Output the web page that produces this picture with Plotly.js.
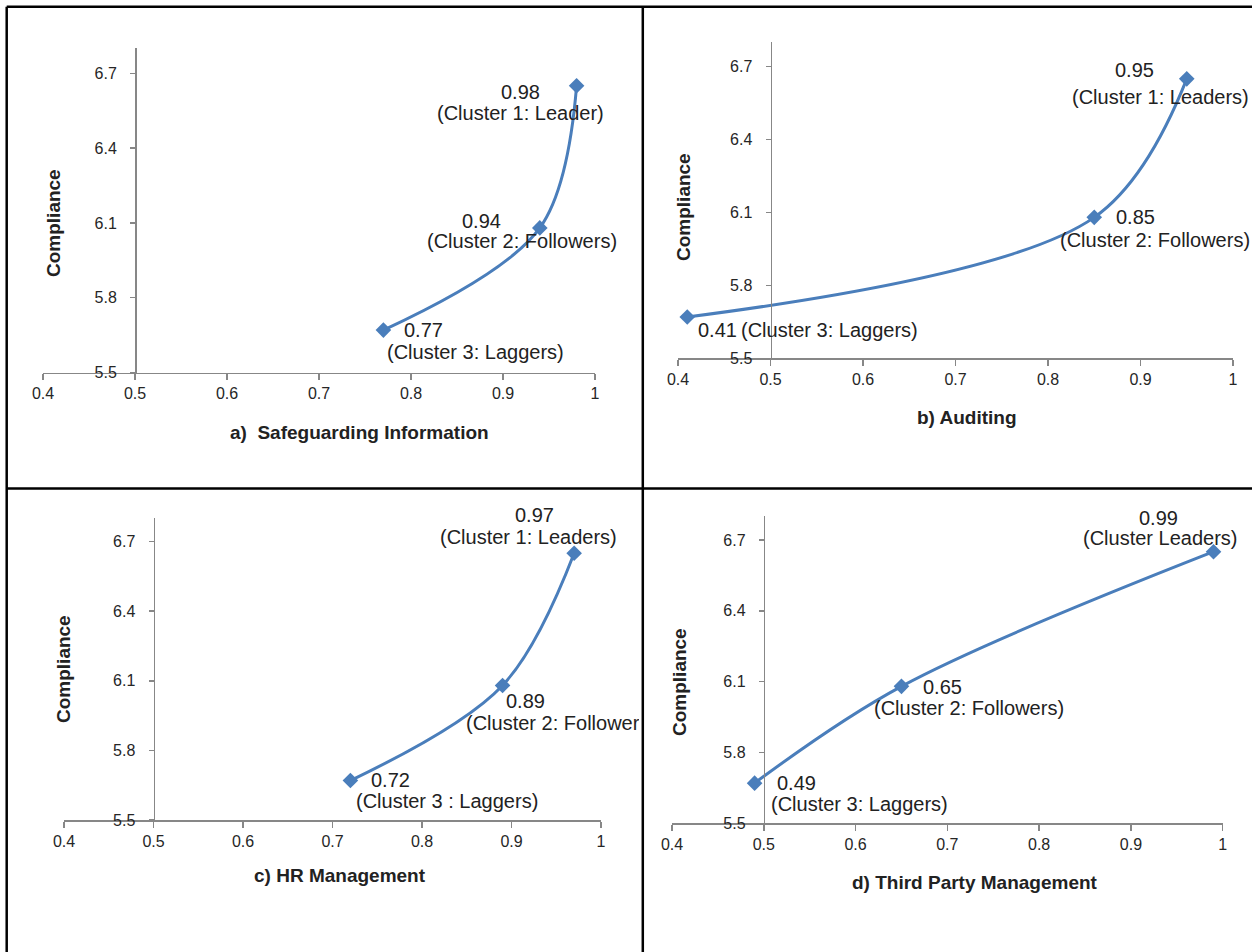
<!DOCTYPE html>
<html><head><meta charset="utf-8">
<script src="https://cdn.plot.ly/plotly-3.0.1.min.js"></script>
<style>html,body{margin:0;padding:0;background:#fff;} #chart{width:1252px;height:952px;}</style>
</head><body><div id="chart"></div>
<script>
// ---- data ----
const compliance = [5.67, 6.08, 6.65];
const safeguardingX = [0.77, 0.94, 0.98];
const auditingX = [0.41, 0.85, 0.95];
const hrX = [0.72, 0.89, 0.97];
const thirdPartyX = [0.49, 0.65, 0.99];
const safeguardingLabels = ['(Cluster 3: Laggers)', '(Cluster 2: Followers)', '(Cluster 1: Leader)'];
const auditingLabels = ['(Cluster 3: Laggers)', '(Cluster 2: Followers)', '(Cluster 1: Leaders)'];
const hrLabels = ['(Cluster 3 : Laggers)', '(Cluster 2: Followers)', '(Cluster 1: Leaders)'];
const thirdPartyLabels = ['(Cluster 3: Laggers)', '(Cluster 2: Followers)', '(Cluster Leaders)'];
const panelTitles = ['a)  Safeguarding Information', 'b) Auditing', 'c) HR Management', 'd) Third Party Management'];
const yAxisTitle = 'Compliance';
const xTickVals = [0.4, 0.5, 0.6, 0.7, 0.8, 0.9, 1.0];
const xTickText = ['0.4', '0.5', '0.6', '0.7', '0.8', '0.9', '1'];
const yTickVals = [5.5, 5.8, 6.1, 6.4, 6.7];
const yTickText = ['5.5', '5.8', '6.1', '6.4', '6.7'];

// ---- layout / style ----
const W = 1252, H = 952;
const FONT = 'Arial, "Liberation Sans", sans-serif';
const BLUE = '#4A7EBB';
const AXC = '#878787';
const xRange = [0.4, 1.0], yRange = [5.5, 6.8];

const panels = [
  {x: safeguardingX, labels: safeguardingLabels, xpx: [43, 595], ypx: [372.5, 48.4],
   titlePos: [359, 433], compPos: [53, 223],
   numOff: [[40, 0], [-58, -7], [-56, 6]], clusOff: [[92, 21.5], [-18, 13], [-56, 27.5]]},
  {x: auditingX, labels: auditingLabels, xpx: [678, 1233], ypx: [358.3, 42.4],
   titlePos: [967, 417], compPos: [683, 207],
   numOff: [[30, 13], [41, 0], [-52, -8.5]], clusOff: [[142, 13], [61, 23], [-26, 18]]},
  {x: hrX, labels: hrLabels, xpx: [64, 601], ypx: [820, 518.4],
   titlePos: [340, 875], compPos: [63, 669],
   numOff: [[40, -1], [23, 16], [-40, -38]], clusOff: [[97, 20.5], null, [-45.4, -16.5]],
   clipped: {i: 1, left: -37.6, dy: 37.6, width: 173}},
  {x: thirdPartyX, labels: thirdPartyLabels, xpx: [672, 1222.7], ypx: [823.3, 516.3],
   titlePos: [975, 882], compPos: [679, 682],
   numOff: [[41.4, 0], [41, 0.7], [-55.4, -33.6]], clusOff: [[105, 21], [67.6, 21.7], [-53.3, -13.6]]}
];

const data = [];
const layout = {
  width: W, height: H, margin: {l: 0, r: 0, t: 0, b: 0},
  paper_bgcolor: '#fff', plot_bgcolor: 'rgba(0,0,0,0)',
  showlegend: false, font: {family: FONT, color: '#222'},
  annotations: [], shapes: []
};

panels.forEach((p, k) => {
  const n = k + 1;
  const xa = 'xaxis' + (n === 1 ? '' : n), ya = 'yaxis' + (n === 1 ? '' : n);
  const xr = 'x' + (n === 1 ? '' : n), yr = 'y' + (n === 1 ? '' : n);
  const xd = [p.xpx[0] / W, p.xpx[1] / W];
  const yd = [1 - p.ypx[0] / H, 1 - p.ypx[1] / H];
  const ypos = xd[0] + (0.5 - xRange[0]) / (xRange[1] - xRange[0]) * (xd[1] - xd[0]);
  layout[xa] = {domain: xd, range: xRange, anchor: yr, showline: true, linecolor: AXC, linewidth: 1.5,
    ticks: 'outside', ticklen: 6, tickcolor: AXC, tickwidth: 1.5, tickvals: xTickVals, ticktext: xTickText,
    showgrid: false, zeroline: false, tickfont: {size: 16, color: '#262626', family: FONT}, fixedrange: true};
  layout[ya] = {domain: yd, range: yRange, anchor: 'free', position: ypos, showline: true, linecolor: AXC, linewidth: 1.5,
    ticks: 'outside', ticklen: 5, tickcolor: AXC, tickwidth: 1.5, tickvals: yTickVals, ticktext: yTickText,
    showgrid: false, zeroline: false, tickfont: {size: 16, color: '#262626', family: FONT}, ticklabelstandoff: 10, fixedrange: true};
  data.push({type: 'scatter', mode: 'lines+markers', x: p.x, y: compliance, xaxis: xr, yaxis: yr,
    line: {color: BLUE, width: 3, shape: 'spline', smoothing: 1},
    marker: {symbol: 'diamond', size: 12, color: BLUE}, hoverinfo: 'x+y'});
  p.x.forEach((xv, i) => {
    layout.annotations.push({xref: xr, yref: yr, x: xv, y: compliance[i], text: xv.toFixed(2), showarrow: false,
      xanchor: 'center', yanchor: 'middle', xshift: p.numOff[i][0], yshift: -p.numOff[i][1],
      font: {size: 20, color: '#222', family: FONT}});
    if (p.clusOff[i]) {
      layout.annotations.push({xref: xr, yref: yr, x: xv, y: compliance[i], text: p.labels[i], showarrow: false,
        xanchor: 'center', yanchor: 'middle', xshift: p.clusOff[i][0], yshift: -p.clusOff[i][1],
        font: {size: 20, color: '#222', family: FONT}});
    } else if (p.clipped && p.clipped.i === i) {
      layout.annotations.push({xref: xr, yref: yr, x: xv, y: compliance[i], text: p.labels[i], showarrow: false,
        xanchor: 'left', yanchor: 'middle', align: 'left', width: p.clipped.width, borderpad: 0,
        xshift: p.clipped.left, yshift: -p.clipped.dy,
        font: {size: 20, color: '#222', family: FONT}});
    }
  });
  layout.annotations.push({xref: 'paper', yref: 'paper', x: p.titlePos[0] / W, y: 1 - p.titlePos[1] / H,
    text: '<b>' + panelTitles[k] + '</b>', showarrow: false, xanchor: 'center', yanchor: 'middle',
    font: {size: 19, color: '#222', family: FONT}});
  layout.annotations.push({xref: 'paper', yref: 'paper', x: p.compPos[0] / W, y: 1 - p.compPos[1] / H,
    text: '<b>' + yAxisTitle + '</b>', textangle: -90, showarrow: false, xanchor: 'center', yanchor: 'middle',
    font: {size: 19, color: '#222', family: FONT}});
});

// panel borders
const bx = 6.7, mx = 642.8, my = 488.5;
const seg = (x0, y0, x1, y1) => ({type: 'line', xref: 'paper', yref: 'paper', x0: x0 / W, y0: 1 - y0 / H, x1: x1 / W, y1: 1 - y1 / H,
  line: {color: '#000', width: 2.5}, layer: 'above'});
layout.shapes.push(seg(bx, bx, W, bx), seg(bx, bx, bx, H), seg(mx, bx, mx, H), seg(bx, my, W, my));

Plotly.newPlot('chart', data, layout, {staticPlot: true, displayModeBar: false});
</script></body></html>
